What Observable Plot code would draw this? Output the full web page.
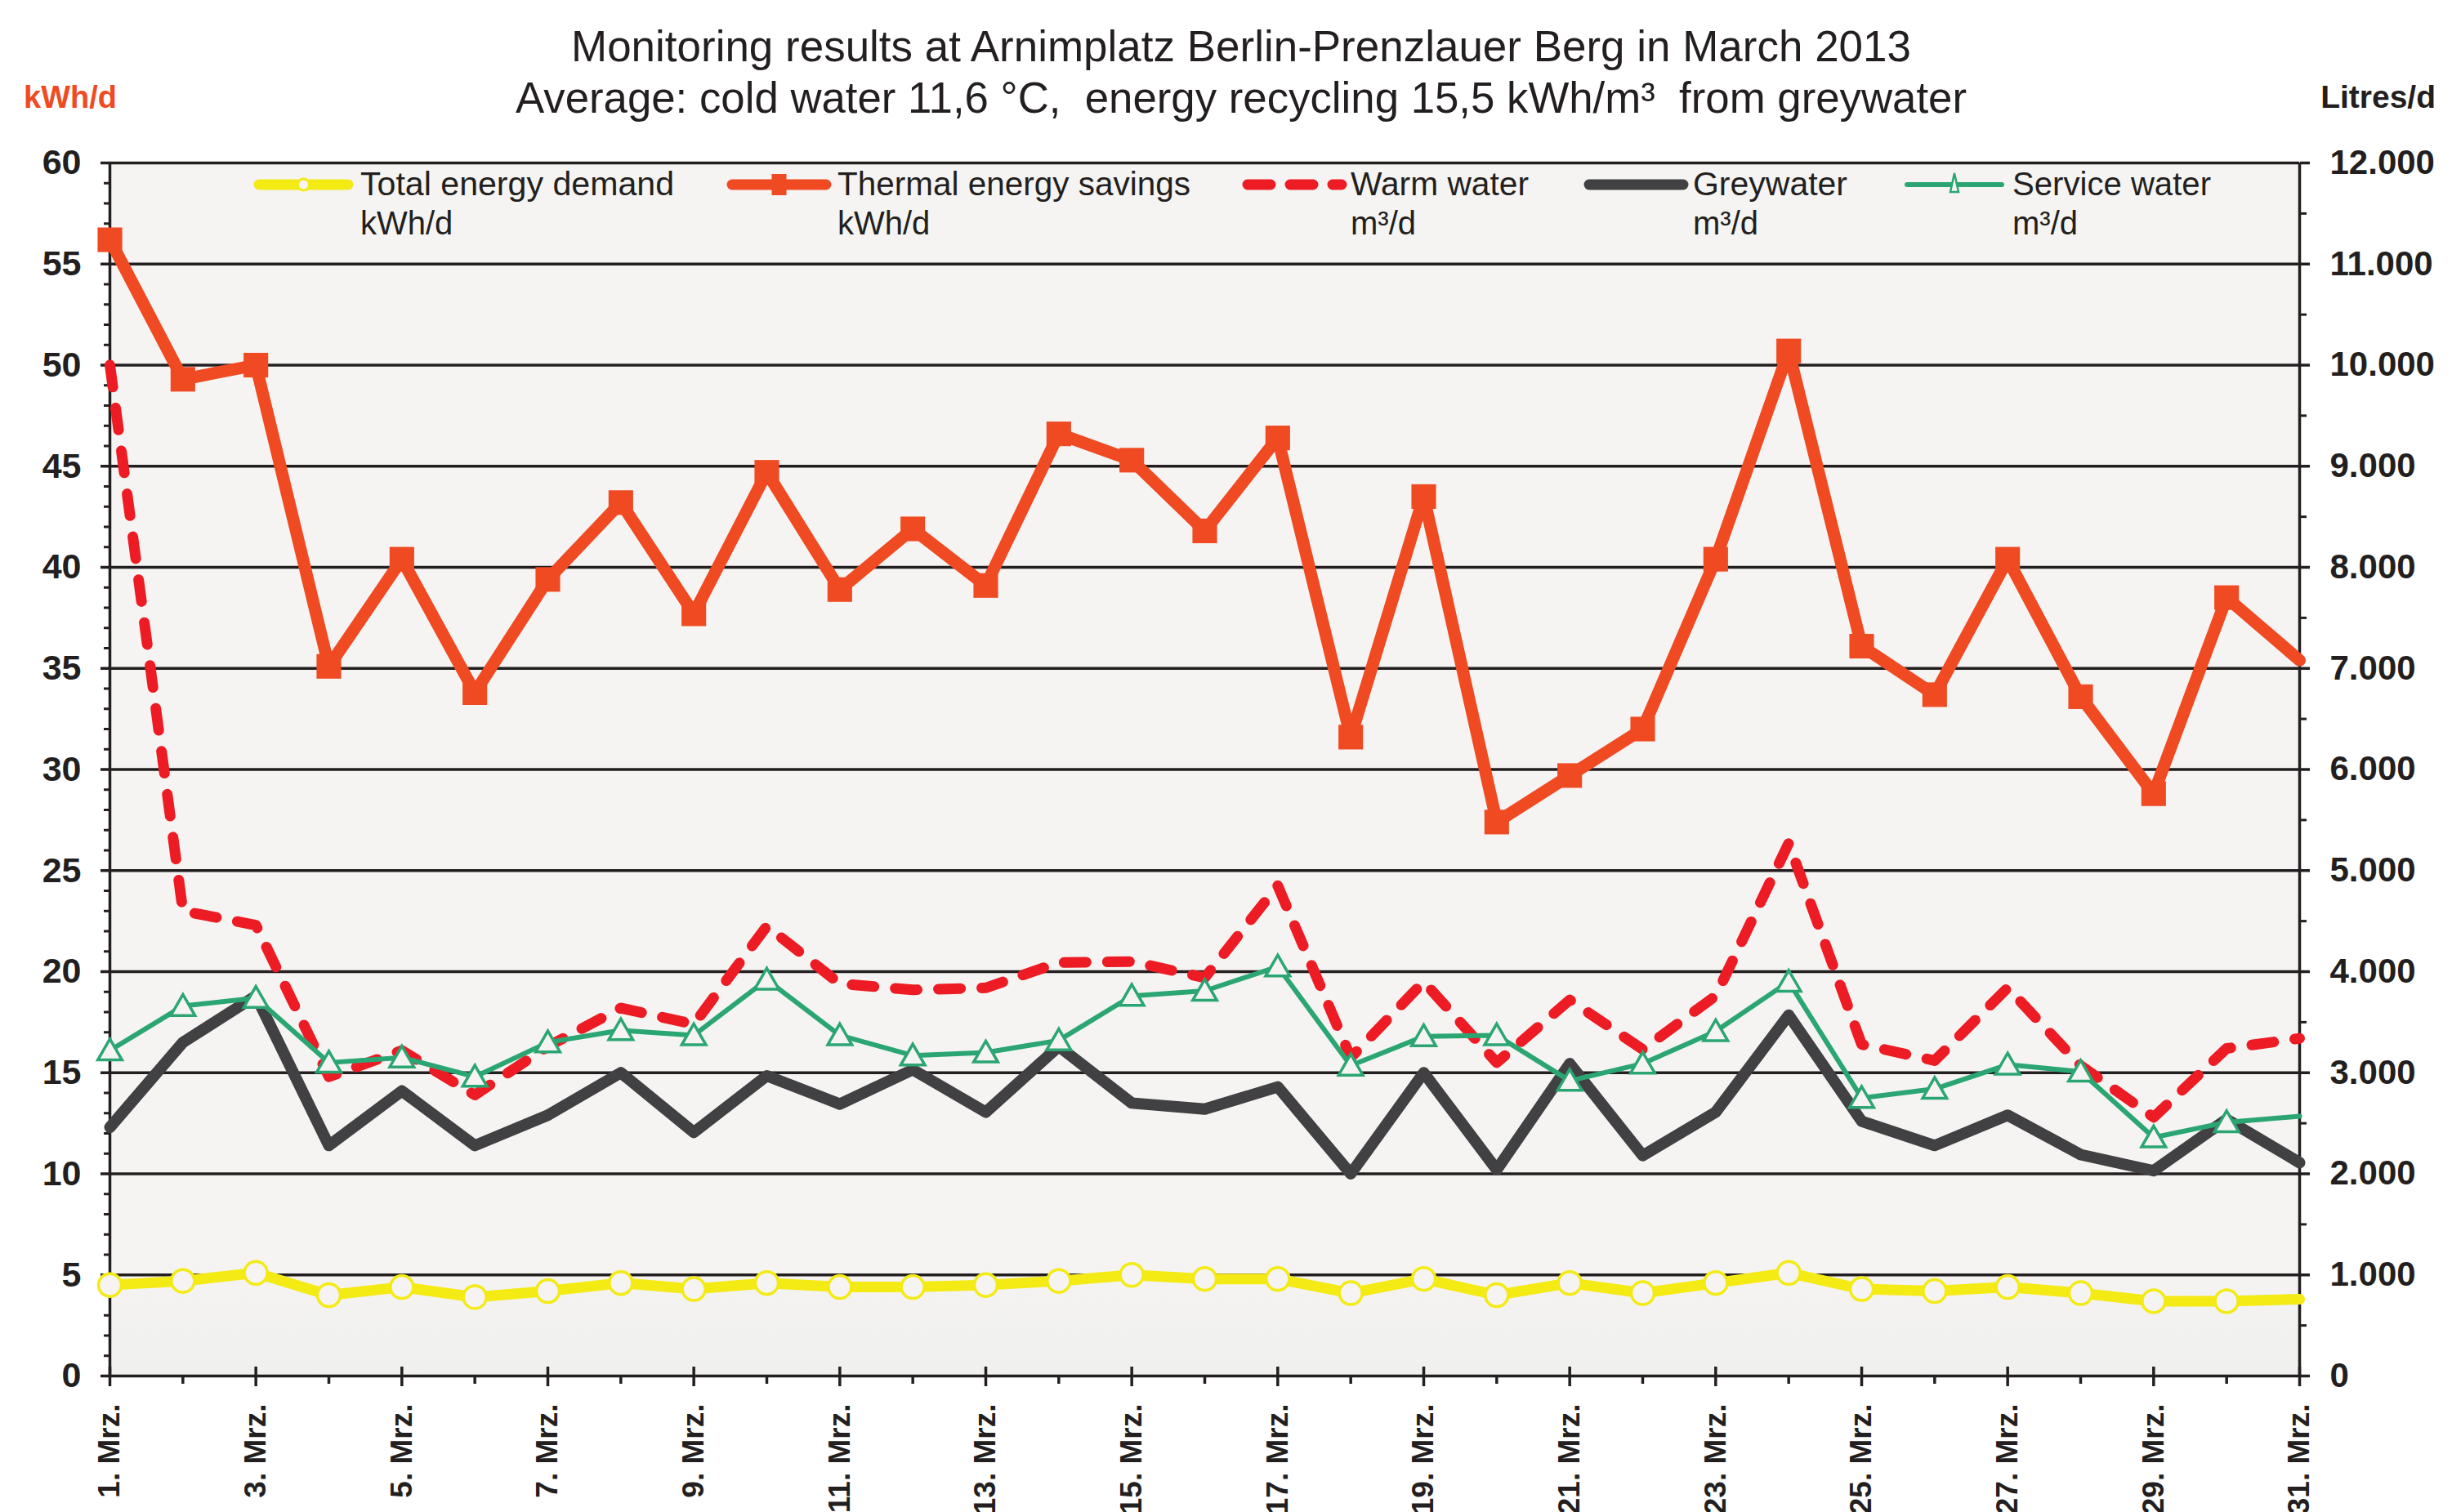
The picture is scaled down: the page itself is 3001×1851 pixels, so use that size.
<!DOCTYPE html>
<html>
<head>
<meta charset="utf-8">
<script src="https://cdn.jsdelivr.net/npm/d3@7"></script>
<script src="https://cdn.jsdelivr.net/npm/@observablehq/plot@0.6"></script>
<style>
  html, body { margin: 0; padding: 0; background: #ffffff; }
  #chart svg { display: block; }
</style>
</head>
<body>
<div id="chart"></div>
<script>
// ---------------- DATA ----------------
const days = [1,2,3,4,5,6,7,8,9,10,11,12,13,14,15,16,17,18,19,20,21,22,23,24,25,26,27,28,29,30,31];
const xLabelDays = [1,3,5,7,9,11,13,15,17,19,21,23,25,27,29,31];
const monthAbbr = "Mrz.";

// kWh/d (left axis)
const totalEnergy = [4.5,4.7,5.1,4.0,4.4,3.9,4.2,4.6,4.3,4.6,4.4,4.4,4.5,4.7,5.0,4.8,4.8,4.1,4.8,4.0,4.6,4.1,4.6,5.1,4.3,4.2,4.4,4.1,3.7,3.7,3.8];
const thermalSavings = [56.2,49.3,50.0,35.1,40.4,33.8,39.4,43.2,37.7,44.7,38.9,41.9,39.1,46.6,45.3,41.8,46.4,31.6,43.5,27.4,29.7,32.0,40.4,50.7,36.1,33.7,40.4,33.6,28.8,38.5,35.4];
// Litres/d (right axis)
const warmWater = [10000,4600,4460,2960,3220,2780,3260,3640,3480,4450,3880,3820,3840,4090,4100,3940,4850,3150,3900,3100,3720,3230,3760,5270,3280,3120,3840,3070,2560,3240,3340];
const greywater = [2460,3300,3760,2280,2820,2280,2580,3000,2410,2970,2690,3030,2610,3260,2700,2640,2860,2000,3000,2040,3090,2180,2610,3570,2520,2280,2580,2190,2030,2540,2110];
const serviceWater = [3220,3660,3740,3100,3150,2960,3300,3420,3370,3920,3370,3170,3200,3320,3760,3810,4050,3070,3360,3370,2920,3090,3410,3900,2750,2840,3080,3010,2360,2510,2570];

const leftTicks = [0,5,10,15,20,25,30,35,40,45,50,55,60];
const rightTicks = [0,1000,2000,3000,4000,5000,6000,7000,8000,9000,10000,11000,12000];

const titleLines = [
  "Monitoring results at Arnimplatz Berlin-Prenzlauer Berg in March 2013",
  "Average: cold water 11,6 °C,  energy recycling 15,5 kWh/m³  from greywater"
];
const leftUnit = "kWh/d";
const rightUnit = "Litres/d";
const seriesNames = ["Total energy demand", "Thermal energy savings", "Warm water", "Greywater", "Service water"];
const seriesUnits = ["kWh/d", "kWh/d", "m³/d", "m³/d", "m³/d"];

// ---------------- STYLE ----------------
const ink = "#231f20";
const bg = "#f5f4f2";
const cYellow = "#f4ea14";
const cOrange = "#f04a23";
const cRed = "#ed1c24";
const cGrey = "#414042";
const cGreen = "#2ba673";
const font = "'Liberation Sans', Arial, Helvetica, sans-serif";

const factor = rightTicks[rightTicks.length - 1] / leftTicks[leftTicks.length - 1]; // litres per kWh-axis unit

const rows = days.map((d, i) => ({
  day: d,
  total: totalEnergy[i],
  thermal: thermalSavings[i],
  warm: warmWater[i] / factor,
  grey: greywater[i] / factor,
  service: serviceWater[i] / factor
}));
const markerRows = rows.filter(r => r.day < days[days.length - 1]);

const minorLeft = d3.range(0, 61, 1).filter(v => v % 5 !== 0);
const minorRight = d3.range(500, 12000, 1000).map(v => v / factor);
const evenDays = days.filter(d => d % 2 === 0);
const fmtLitres = v => v === 0 ? "0" : d3.format(",")(v).replace(/,/g, ".");

const chart = Plot.plot({
  width: 3001,
  height: 1851,
  marginTop: 199,
  marginBottom: 167,
  marginLeft: 134,
  marginRight: 187,
  style: { background: "#ffffff", fontFamily: font, color: ink, overflow: "visible" },
  x: { domain: [1, 31], axis: null },
  y: { domain: [0, 60] },
  marks: [
    Plot.frame({ fill: "url(#plotBg)", stroke: null }),
    Plot.ruleY(leftTicks, { stroke: ink, strokeWidth: 3.5 }),
    // minor ticks
    Plot.ruleY(minorLeft, { x1: 1, x2: 1, insetLeft: -7, stroke: ink, strokeWidth: 3 }),
    Plot.ruleY(minorRight, { x1: 31, x2: 31, insetRight: -9, stroke: ink, strokeWidth: 3 }),
    Plot.ruleX(xLabelDays, { y1: 0, y2: 0, insetTop: -11, insetBottom: -13, stroke: ink, strokeWidth: 3.5 }),
    Plot.ruleX(evenDays, { y1: 0, y2: 0, insetBottom: -10, stroke: ink, strokeWidth: 3.5 }),
    // axis lines
    Plot.ruleX([1, 31], { stroke: ink, strokeWidth: 3.5 }),
    Plot.axisY({
      anchor: "left", ticks: leftTicks, tickSize: 11, tickPadding: 24,
      tickFormat: d => String(d), fontSize: 43, fontWeight: "bold", label: null,
      strokeWidth: 3.5, color: ink
    }),
    Plot.axisY({
      anchor: "right", ticks: rightTicks.map(v => v / factor), tickSize: 12, tickPadding: 25,
      tickFormat: d => fmtLitres(Math.round(d * factor)), fontSize: 42, fontWeight: "bold", label: null,
      strokeWidth: 3.5, color: ink
    }),
    Plot.text(xLabelDays, {
      x: d => d, text: d => `${d}. ${monthAbbr}`, frameAnchor: "bottom", dy: 34,
      rotate: -90, textAnchor: "end", lineAnchor: "middle",
      fontSize: 37, fontWeight: "bold", fill: ink
    }),
    // series
    Plot.line(rows, { x: "day", y: "total", stroke: cYellow, strokeWidth: 13, strokeLinejoin: "round" }),
    Plot.dot(markerRows, { x: "day", y: "total", r: 14, stroke: cYellow, strokeWidth: 3.5, fill: bg }),
    Plot.line(rows, { x: "day", y: "thermal", stroke: cOrange, strokeWidth: 15, strokeLinejoin: "round" }),
    Plot.dot(markerRows, { x: "day", y: "thermal", symbol: "square", r: 17, fill: cOrange, stroke: null }),
    Plot.line(rows, { x: "day", y: "warm", stroke: cRed, strokeWidth: 13, strokeDasharray: "27,26", strokeLinecap: "round", strokeLinejoin: "round" }),
    Plot.line(rows, { x: "day", y: "grey", stroke: cGrey, strokeWidth: 14, strokeLinejoin: "round" }),
    Plot.line(rows, { x: "day", y: "service", stroke: cGreen, strokeWidth: 6, strokeLinejoin: "round" }),
    Plot.dot(markerRows, { x: "day", y: "service", symbol: "triangle", r: 11, stroke: cGreen, strokeWidth: 3.5, fill: bg, dy: 3 })
  ]
});

const svg = d3.select(chart);
const defs = svg.insert("defs", ":first-child");
const grad = defs.append("linearGradient").attr("id", "plotBg")
  .attr("x1", 0).attr("y1", 0).attr("x2", 0).attr("y2", 1);
grad.append("stop").attr("offset", "0%").attr("stop-color", bg);
grad.append("stop").attr("offset", "90%").attr("stop-color", bg);
grad.append("stop").attr("offset", "100%").attr("stop-color", "#f0f0ef");

// Titles
const tg = svg.append("g").attr("font-family", font).attr("fill", ink).attr("text-anchor", "start");
const titleLayout = [{ y: 75, w: 1640 }, { y: 138, w: 1776 }];
titleLines.forEach((t, i) => {
  tg.append("text").attr("x", 1519).attr("y", titleLayout[i].y)
    .attr("text-anchor", "middle").attr("font-size", 53)
    .attr("textLength", titleLayout[i].w).attr("lengthAdjust", "spacingAndGlyphs")
    .style("white-space", "pre").text(t);
});
tg.append("text").attr("x", 29).attr("y", 132).attr("font-size", 38).attr("font-weight", "bold")
  .attr("text-anchor", "start").attr("fill", cOrange).text(leftUnit);
tg.append("text").attr("x", 2981).attr("y", 132).attr("font-size", 39).attr("font-weight", "bold")
  .attr("text-anchor", "end").attr("fill", ink).text(rightUnit);

// Legend
const lg = svg.append("g").attr("font-family", font).attr("fill", ink).attr("text-anchor", "start");
const legendLayout = [
  { x0: 311, x1: 432, tx: 441, tw: 384 },
  { x0: 890, x1: 1017, tx: 1025, tw: 432 },
  { x0: 1521, x1: 1648, tx: 1653, tw: 218 },
  { x0: 1939, x1: 2066, tx: 2072, tw: 189 },
  { x0: 2332, x1: 2452, tx: 2463, tw: 243 }
];
const ly = 226;
const L = legendLayout;
// samples
lg.append("line").attr("x1", L[0].x0 + 6).attr("x2", L[0].x1 - 6).attr("y1", ly).attr("y2", ly)
  .attr("stroke", cYellow).attr("stroke-width", 13).attr("stroke-linecap", "round");
lg.append("circle").attr("cx", (L[0].x0 + L[0].x1) / 2).attr("cy", ly).attr("r", 7)
  .attr("stroke", cYellow).attr("stroke-width", 3).attr("fill", bg);
lg.append("line").attr("x1", L[1].x0 + 6).attr("x2", L[1].x1 - 6).attr("y1", ly).attr("y2", ly)
  .attr("stroke", cOrange).attr("stroke-width", 13).attr("stroke-linecap", "round");
lg.append("rect").attr("x", (L[1].x0 + L[1].x1) / 2 - 9).attr("y", ly - 13).attr("width", 18).attr("height", 26)
  .attr("fill", cOrange);
lg.append("line").attr("x1", L[2].x0 + 6).attr("x2", L[2].x1 - 6).attr("y1", ly).attr("y2", ly)
  .attr("stroke", cRed).attr("stroke-width", 13).attr("stroke-linecap", "round").attr("stroke-dasharray", "28,24");
lg.append("line").attr("x1", L[3].x0 + 6).attr("x2", L[3].x1 - 6).attr("y1", ly).attr("y2", ly)
  .attr("stroke", cGrey).attr("stroke-width", 13).attr("stroke-linecap", "round");
lg.append("line").attr("x1", L[4].x0 + 2).attr("x2", L[4].x1 - 2).attr("y1", ly).attr("y2", ly)
  .attr("stroke", cGreen).attr("stroke-width", 6).attr("stroke-linecap", "round");
{
  const cx = (L[4].x0 + L[4].x1) / 2;
  lg.append("path").attr("d", `M${cx},${ly - 14} L${cx - 5},${ly + 9} L${cx + 5},${ly + 9} Z`)
    .attr("stroke", cGreen).attr("stroke-width", 2.5).attr("fill", bg);
}
seriesNames.forEach((n, i) => {
  lg.append("text").attr("x", L[i].tx).attr("y", 239).attr("font-size", 40).attr("text-anchor", "start")
    .attr("textLength", L[i].tw).attr("lengthAdjust", "spacingAndGlyphs").text(n);
  lg.append("text").attr("x", L[i].tx).attr("y", 287).attr("font-size", 40).attr("text-anchor", "start")
    .text(seriesUnits[i]);
});

document.getElementById("chart").appendChild(chart);
</script>
</body>
</html>
